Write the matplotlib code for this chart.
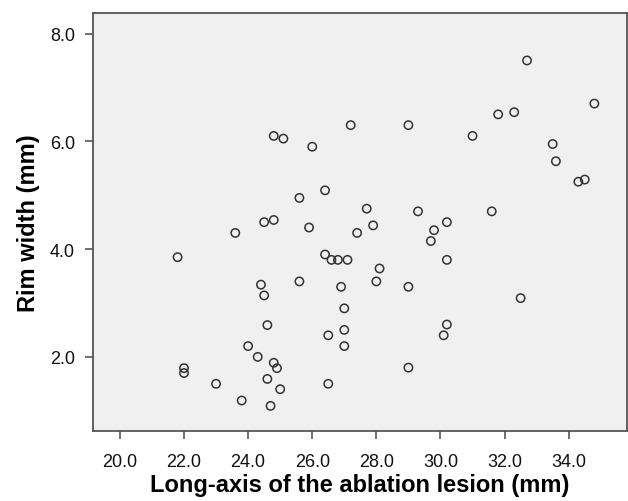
import matplotlib
matplotlib.use("Agg")
import matplotlib.pyplot as plt

long_axis = [24.8, 25.1, 26.0, 25.6, 24.5, 24.8, 23.6, 25.9,
             32.7, 34.8, 31.8, 32.3, 27.2, 29.0, 31.0, 33.5, 33.6, 34.3, 34.5,
             26.4, 27.7, 27.4, 27.9, 29.3, 29.8, 29.7, 30.2, 31.6,
             21.8, 24.4, 24.5, 25.6, 24.6, 24.0, 24.3, 24.8, 24.9, 22.0, 22.0,
             23.0, 24.6, 25.0, 23.8, 24.7,
             26.4, 26.6, 26.8, 27.1, 30.2, 28.1, 28.0, 26.9, 29.0, 32.5,
             27.0, 27.0, 26.5, 30.2, 30.1, 27.0, 29.0, 26.5]
rim_width = [6.10, 6.05, 5.90, 4.95, 4.50, 4.54, 4.30, 4.40,
             7.50, 6.70, 6.50, 6.54, 6.30, 6.30, 6.10, 5.95, 5.63, 5.25, 5.29,
             5.09, 4.75, 4.30, 4.44, 4.70, 4.35, 4.15, 4.50, 4.70,
             3.85, 3.34, 3.14, 3.40, 2.59, 2.20, 2.00, 1.89, 1.79, 1.79, 1.70,
             1.50, 1.59, 1.40, 1.19, 1.09,
             3.90, 3.80, 3.80, 3.80, 3.80, 3.64, 3.40, 3.30, 3.30, 3.09,
             2.90, 2.50, 2.40, 2.60, 2.40, 2.20, 1.80, 1.50]
x_ticks = [20.0, 22.0, 24.0, 26.0, 28.0, 30.0, 32.0, 34.0]
y_ticks = [2.0, 4.0, 6.0, 8.0]

plt.rcParams['font.family'] = ['Liberation Sans', 'DejaVu Sans']

fig = plt.figure(figsize=(6.28, 5.02), dpi=100)
ax = fig.add_axes([0.148, 0.139, 0.850, 0.833])
ax.set_facecolor('#f0f0f0')
ax.scatter(long_axis, rim_width, s=36, facecolors='none', edgecolors='#333333',
           linewidths=1.1, zorder=3)
ax.set_xlim(19.16, 35.81)
ax.set_ylim(0.62, 8.38)
ax.set_xticks(x_ticks)
ax.set_xticklabels([f"{v:.1f}" for v in x_ticks])
ax.set_yticks(y_ticks)
ax.set_yticklabels([f"{v:.1f}" for v in y_ticks])
for s in ax.spines.values():
    s.set_color('#555555')
    s.set_linewidth(1.3)
ax.tick_params(axis='x', length=6, width=1.2, color='#555555', pad=10, labelsize=13,
               labelcolor='#111111')
ax.tick_params(axis='y', length=6, width=1.2, color='#555555', pad=7, labelsize=13,
               labelcolor='#111111')
ax.set_xlabel('Long-axis of the ablation lesion (mm)', fontsize=17, fontweight='bold', labelpad=2)
ax.set_ylabel('Rim width (mm)', fontsize=17, fontweight='bold', labelpad=7)
fig.savefig('out.png', dpi=100)
